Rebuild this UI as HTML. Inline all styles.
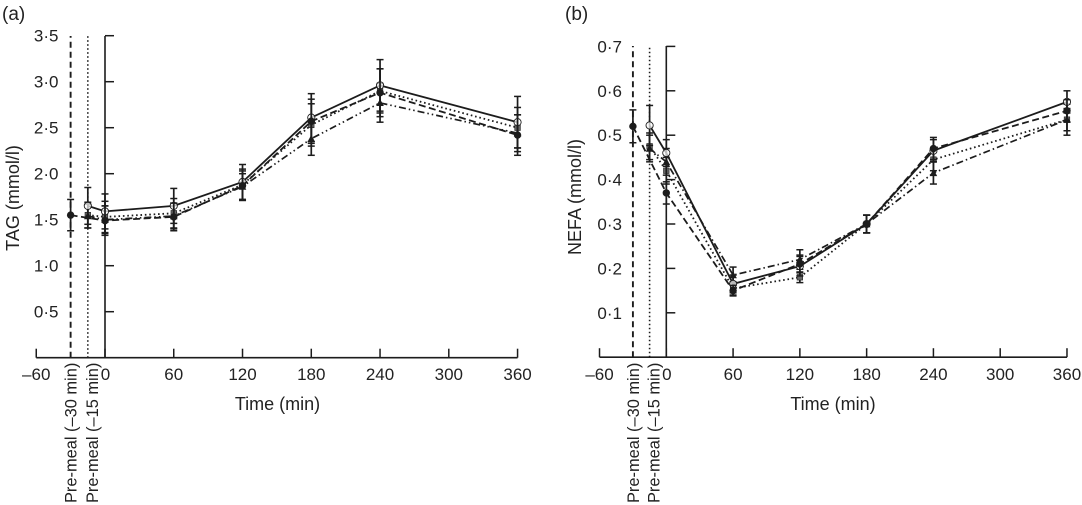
<!DOCTYPE html>
<html lang="en">
<head>
<meta charset="utf-8">
<title>TAG and NEFA over time</title>
<style>
html,body{margin:0;padding:0;background:#fff;width:1082px;height:505px;overflow:hidden}
svg{display:block}
text{font-family:"Liberation Sans",sans-serif;font-size:17px;fill:#222}
text.big{font-size:18px}
text.premeal{font-size:16.4px}
</style>
</head>
<body>
<svg id="chart" width="1082" height="505" viewBox="0 0 1082 505" xmlns="http://www.w3.org/2000/svg"></svg>
<script>
// Shared categories and tick labels
const premealTimes = [-30, -15];
const xTickValues = [-60, 0, 60, 120, 180, 240, 300, 360];
const xTickLabels = ['\u201360', '0', '60', '120', '180', '240', '300', '360'];
const postTimes = [0, 60, 120, 180, 240, 360];

// Panel (a): TAG values
const tagTicks = [0.5, 1.0, 1.5, 2.0, 2.5, 3.0, 3.5];
const tagTickLabels = ['0\u00b75', '1\u00b70', '1\u00b75', '2\u00b70', '2\u00b75', '3\u00b70', '3\u00b75'];
const tagSolidPre = 1.65;
const tagSolid = [1.59, 1.65, 1.91, 2.61, 2.96, 2.56];
const tagSolidErr = [0.19, 0.19, 0.19, 0.26, 0.28, 0.28];
const tagDashedPre = 1.55;
const tagDashed = [1.49, 1.53, 1.87, 2.57, 2.88, 2.42];
const tagDashedErr = [0.16, 0.15, 0.16, 0.24, 0.26, 0.22];
const tagDottedPre = 1.55;
const tagDotted = [1.53, 1.57, 1.88, 2.53, 2.90, 2.50];
const tagDottedErr = [0.17, 0.16, 0.17, 0.23, 0.24, 0.22];
const tagDashDotPre = 1.54;
const tagDashDot = [1.50, 1.54, 1.86, 2.38, 2.77, 2.44];
const tagDashDotErr = [0.15, 0.14, 0.14, 0.18, 0.21, 0.20];
const tagPreErr = [0.17, 0.20, 0.14, 0.13];

// Panel (b): NEFA values
const nefaTicks = [0.1, 0.2, 0.3, 0.4, 0.5, 0.6, 0.7];
const nefaTickLabels = ['0\u00b71', '0\u00b72', '0\u00b73', '0\u00b74', '0\u00b75', '0\u00b76', '0\u00b77'];
const nefaSolidPre = 0.522;
const nefaSolid = [0.46, 0.165, 0.205, 0.30, 0.465, 0.575];
const nefaSolidErr = [0.03, 0.02, 0.022, 0.02, 0.025, 0.025];
const nefaDashedPre = 0.52;
const nefaDashed = [0.37, 0.15, 0.21, 0.30, 0.47, 0.555];
const nefaDashedErr = [0.025, 0.012, 0.02, 0.02, 0.025, 0.025];
const nefaDottedPre = 0.475;
const nefaDotted = [0.42, 0.155, 0.18, 0.30, 0.445, 0.535];
const nefaDottedErr = [0.03, 0.015, 0.012, 0.02, 0.025, 0.025];
const nefaDashDotPre = 0.47;
const nefaDashDot = [0.44, 0.185, 0.22, 0.30, 0.415, 0.535];
const nefaDashDotErr = [0.03, 0.018, 0.022, 0.02, 0.025, 0.035];
const nefaPreErr = [0.037, 0.045, 0.03, 0.03];

const NS = 'http://www.w3.org/2000/svg';
const root = document.getElementById('chart');

function make(parent, tag, attrs, name) {
  const el = document.createElementNS(NS, tag);
  for (const k in attrs) el.setAttribute(k, attrs[k]);
  
  
  parent.appendChild(el);
  return el;
}

function drawPanel(cfg) {
  const g = make(root, 'g', {}, cfg.id + '-panel');
  const x = t => cfg.x0 + t * cfg.xs;
  const y = v => cfg.y0 - v * cfg.ys;
  const ink = '#1c1c1c';

  make(g, 'text', {x: cfg.letterX, y: 20, class: 'big', style: 'font-size:19px'}, cfg.id + '-panel-label').textContent = cfg.letter;

  // Axes
  make(g, 'line', {x1: x(-60), x2: x(360), y1: cfg.y0, y2: cfg.y0, stroke: ink, 'stroke-width': 1.6}, 'x-axis');
  make(g, 'line', {x1: x(0), x2: x(0), y1: cfg.y0, y2: cfg.top, stroke: ink, 'stroke-width': 1.6}, 'y-axis');

  xTickValues.forEach((t, i) => {
    make(g, 'line', {x1: x(t), x2: x(t), y1: cfg.y0, y2: cfg.y0 - 9, stroke: ink, 'stroke-width': 1.5}, 'x-tick');
    make(g, 'text', {x: x(t) + (t === 0 ? 0.5 : 0), y: 380, 'text-anchor': 'middle'}, 'x-tick-label').textContent = xTickLabels[i];
  });
  cfg.ticks.forEach((v, i) => {
    make(g, 'line', {x1: x(0), x2: x(0) + 9, y1: y(v), y2: y(v), stroke: ink, 'stroke-width': 1.5}, 'y-tick');
    make(g, 'text', {x: cfg.labelRight, y: y(v) + 6, 'text-anchor': 'end'}, 'y-tick-label').textContent = cfg.tickLabels[i];
  });

  make(g, 'text', {x: cfg.timeLabelX, y: 410, 'text-anchor': 'middle', class: 'big'}, 'x-axis-title').textContent = 'Time (min)';
  make(g, 'text', {x: 0, y: 0, 'text-anchor': 'middle', class: 'big', transform: 'translate(' + cfg.titleX + ',' + cfg.titleY + ') rotate(-90)'}, 'y-axis-title').textContent = cfg.title;

  // Pre-meal reference lines
  make(g, 'line', {x1: x(premealTimes[0]), x2: x(premealTimes[0]), y1: cfg.y0, y2: cfg.top, stroke: ink, 'stroke-width': 1.9, 'stroke-dasharray': '6 4'}, 'premeal-30-line');
  make(g, 'line', {x1: x(premealTimes[1]), x2: x(premealTimes[1]), y1: cfg.y0, y2: cfg.top, stroke: ink, 'stroke-width': 1.6, 'stroke-dasharray': '1.5 2.5'}, 'premeal-15-line');
  make(g, 'text', {x: 0, y: 0, 'text-anchor': 'start', class: 'premeal', transform: 'translate(' + (x(premealTimes[0]) + 6) + ',503) rotate(-90)'}, 'premeal-30-label').textContent = 'Pre-meal (\u201330 min)';
  make(g, 'text', {x: 0, y: 0, 'text-anchor': 'start', class: 'premeal', transform: 'translate(' + (x(premealTimes[1]) + 10) + ',503) rotate(-90)'}, 'premeal-15-label').textContent = 'Pre-meal (\u201315 min)';

  // Series
  cfg.series.forEach(s => {
    const sg = make(g, 'g', {}, 'series-' + s.key);
    const allT = [s.preT].concat(postTimes);
    const allV = [s.pre].concat(s.values);
    const allE = [s.preErr].concat(s.errs);
    const pts = allT.map((t, i) => x(t).toFixed(1) + ',' + y(allV[i]).toFixed(1)).join(' ');

    allT.forEach((t, i) => {
      const px = x(t);
      const top = y(allV[i] + allE[i]);
      const bot = y(allV[i] - allE[i]);
      make(sg, 'line', {x1: px, x2: px, y1: top, y2: bot, stroke: ink, 'stroke-width': 1.7}, 'error-bar');
      make(sg, 'line', {x1: px - 3.5, x2: px + 3.5, y1: top, y2: top, stroke: ink, 'stroke-width': 1.5}, 'error-cap-upper');
      make(sg, 'line', {x1: px - 3.5, x2: px + 3.5, y1: bot, y2: bot, stroke: ink, 'stroke-width': 1.5}, 'error-cap-lower');
    });

    make(sg, 'polyline', {points: pts, fill: 'none', stroke: ink, 'stroke-width': s.width, 'stroke-dasharray': s.dash}, 'line-' + s.key);

    allT.forEach((t, i) => {
      const px = x(t);
      const py = y(allV[i]);
      if (s.marker === 'open') {
        make(sg, 'circle', {cx: px, cy: py, r: 3.6, fill: '#fff', 'fill-opacity': 0.7, stroke: ink, 'stroke-width': 0.9}, 'point-' + s.key);
      } else if (s.marker === 'filled') {
        make(sg, 'circle', {cx: px, cy: py, r: 3.7, fill: ink}, 'point-' + s.key);
      } else if (s.marker === 'square') {
        make(sg, 'rect', {x: px - 2.8, y: py - 2.8, width: 5.6, height: 5.6, fill: '#666', stroke: ink, 'stroke-width': 0.6}, 'point-' + s.key);
      } else {
        make(sg, 'path', {d: 'M' + px + ' ' + (py - 4) + 'l3.8 7.2h-7.6z', fill: ink}, 'point-' + s.key);
      }
    });
  });
}

drawPanel({
  id: 'tag', letter: '(a)', letterX: 2, x0: 105, xs: 1.146, y0: 357.7, ys: 92, top: 36,
  ticks: tagTicks, tickLabels: tagTickLabels, labelRight: 58.5,
  title: 'TAG (mmol/l)', titleX: 19, titleY: 198, timeLabelX: 277.5,
  series: [
    {key: 'dotted', pre: tagDottedPre, preT: premealTimes[1], preErr: tagPreErr[2], values: tagDotted, errs: tagDottedErr, dash: '1.6 2.8', width: 1.8, marker: 'square'},
    {key: 'dash-dot', pre: tagDashDotPre, preT: premealTimes[1], preErr: tagPreErr[3], values: tagDashDot, errs: tagDashDotErr, dash: '7 3 1.5 3 1.5 3', width: 1.7, marker: 'triangle'},
    {key: 'solid', pre: tagSolidPre, preT: premealTimes[1], preErr: tagPreErr[1], values: tagSolid, errs: tagSolidErr, dash: 'none', width: 1.8, marker: 'open'},
    {key: 'dashed', pre: tagDashedPre, preT: premealTimes[0], preErr: tagPreErr[0], values: tagDashed, errs: tagDashedErr, dash: '7 3.5', width: 1.8, marker: 'filled'}
  ]
});

drawPanel({
  id: 'nefa', letter: '(b)', letterX: 565, x0: 666.3, xs: 1.113, y0: 357.2, ys: 444, top: 46,
  ticks: nefaTicks, tickLabels: nefaTickLabels, labelRight: 622,
  title: 'NEFA (mmol/l)', titleX: 581, titleY: 197, timeLabelX: 833,
  series: [
    {key: 'dotted', pre: nefaDottedPre, preT: premealTimes[1], preErr: nefaPreErr[2], values: nefaDotted, errs: nefaDottedErr, dash: '1.6 2.8', width: 1.8, marker: 'square'},
    {key: 'dash-dot', pre: nefaDashDotPre, preT: premealTimes[1], preErr: nefaPreErr[3], values: nefaDashDot, errs: nefaDashDotErr, dash: '7 3 1.5 3', width: 1.7, marker: 'triangle'},
    {key: 'solid', pre: nefaSolidPre, preT: premealTimes[1], preErr: nefaPreErr[1], values: nefaSolid, errs: nefaSolidErr, dash: 'none', width: 1.8, marker: 'open'},
    {key: 'dashed', pre: nefaDashedPre, preT: premealTimes[0], preErr: nefaPreErr[0], values: nefaDashed, errs: nefaDashedErr, dash: '7 3.5', width: 1.8, marker: 'filled'}
  ]
});
</script>
</body>
</html>
